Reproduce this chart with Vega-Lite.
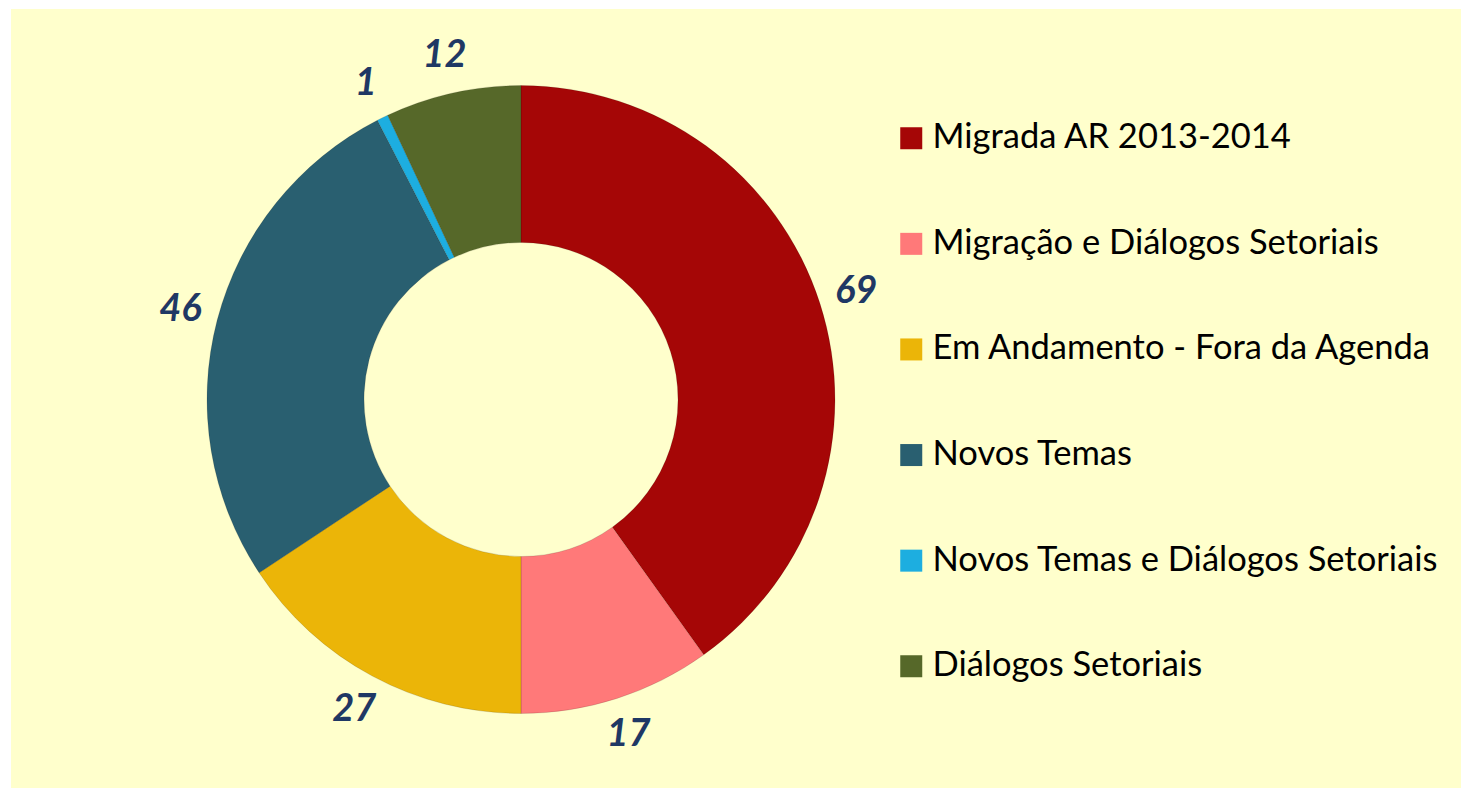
{
  "$schema": "https://vega.github.io/schema/vega-lite/v6.json",
  "background": "white",
  "padding": {"left": 11, "top": 9, "right": 0, "bottom": 0},
  "spacing": 0,
  "config": {
    "view": {"fill": "#FFFFCC", "stroke": "#FFFFCC", "strokeWidth": 2},
    "concat": {"spacing": 0},
    "font": "Lato"
  },
  "data": {
    "values": [
      {"categoria": "Migrada AR 2013-2014", "valor": 69, "ordem": 1},
      {"categoria": "Migração e Diálogos Setoriais", "valor": 17, "ordem": 2},
      {"categoria": "Em Andamento - Fora da Agenda", "valor": 27, "ordem": 3},
      {"categoria": "Novos Temas", "valor": 46, "ordem": 4},
      {"categoria": "Novos Temas e Diálogos Setoriais", "valor": 1, "ordem": 5},
      {"categoria": "Diálogos Setoriais", "valor": 12, "ordem": 6}
    ]
  },
  "hconcat": [
    {
      "width": 1018,
      "height": 779,
      "view": {"fill": "#FFFFCC", "stroke": "#FFFFCC", "strokeWidth": 2},
      "layer": [
        {
          "mark": {"type": "arc", "innerRadius": 157, "outerRadius": 314, "stroke": "#00000022", "strokeWidth": 1},
          "encoding": {
            "theta": {"field": "valor", "type": "quantitative", "stack": true},
            "order": {"field": "ordem", "type": "quantitative"},
            "color": {
              "field": "categoria",
              "type": "nominal",
              "scale": {
                "domain": ["Migrada AR 2013-2014", "Migração e Diálogos Setoriais", "Em Andamento - Fora da Agenda", "Novos Temas", "Novos Temas e Diálogos Setoriais", "Diálogos Setoriais"],
                "range": ["#A50606", "#FF7979", "#EBB508", "#295F70", "#1DAEE0", "#566829"]
              },
              "legend": {
                "orient": "none",
                "legendX": 882,
                "legendY": 111,
                "title": null,
                "symbolType": "square",
                "symbolSize": 484,
                "symbolStrokeWidth": 0,
                "symbolOpacity": 1,
                "labelFont": "Lato",
                "labelFontSize": 34.5,
                "labelColor": "#000000",
                "labelOffset": 4,
                "labelLimit": 600,
                "rowPadding": 70.6
              }
            }
          }
        },
        {
          "mark": {"type": "text", "radius": 352, "font": "Lato", "fontSize": 38, "fontWeight": "bold", "fontStyle": "italic", "color": "#1F3864", "align": "center", "baseline": "middle"},
          "encoding": {
            "theta": {"field": "valor", "type": "quantitative", "stack": true},
            "order": {"field": "ordem", "type": "quantitative"},
            "text": {"field": "valor", "type": "quantitative"}
          }
        }
      ]
    },
    {
      "width": 432,
      "height": 779,
      "view": {"fill": "#FFFFCC", "stroke": "#FFFFCC", "strokeWidth": 2},
      "mark": {"type": "point", "opacity": 0},
      "encoding": {}
    }
  ]
}
